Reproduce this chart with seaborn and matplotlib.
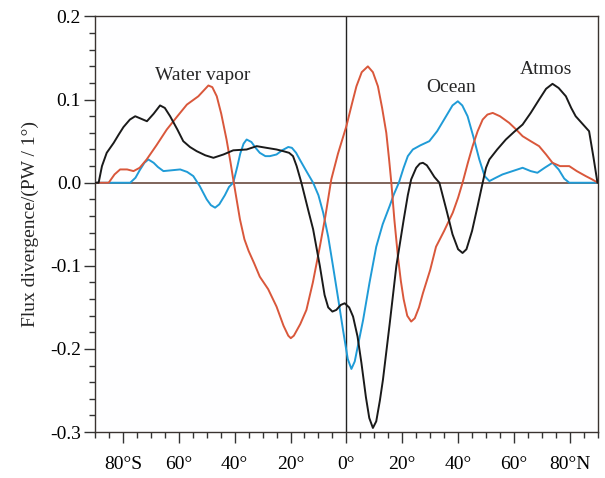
import numpy as np
import pandas as pd
import matplotlib
matplotlib.use("Agg")
import matplotlib.pyplot as plt
import seaborn as sns
from matplotlib.ticker import MultipleLocator, FixedLocator, FixedFormatter

# ---- data ----
lat_atmos = [-90, -88.7, -87.5, -85.8, -83.3, -81.5, -79.8, -77.5, -75.6, -73.5, -71.4,
             -69.0, -66.7, -65.0, -63.1, -60.5, -58.4, -56.0, -53.6, -50.5, -47.6, -44.0,
             -40.5, -35.7, -32.1, -28.6, -25.0, -22.6, -20.5, -19.1, -17.8, -16.1, -13.5,
             -11.9, -9.5, -7.8, -6.5, -5.0, -3.6, -2.0, -0.6, 1.0, 2.4, 4.0, 5.4, 7.0,
             8.2, 9.5, 10.7, 12.0, 13.1, 15.5, 17.9, 20.5, 22.0, 23.2, 25.0, 26.3, 27.4,
             28.8, 30.0, 31.5, 33.3, 36.0, 38.0, 40.0, 41.6, 43.0, 45.0, 47.0, 48.8, 50.0,
             51.2, 54.0, 57.1, 60.0, 63.1, 66.0, 69.0, 71.5, 73.8, 76.0, 78.6, 80.5, 82.1,
             84.5, 86.9, 88.5, 89.9, 90]
atmos = [0.0, 0.0, 0.020, 0.036, 0.048, 0.058, 0.067, 0.076, 0.080, 0.077, 0.074,
         0.083, 0.093, 0.090, 0.080, 0.064, 0.050, 0.043, 0.038, 0.033, 0.030, 0.034,
         0.039, 0.040, 0.044, 0.042, 0.040, 0.038, 0.036, 0.032, 0.020, 0.0, -0.035,
         -0.056, -0.100, -0.135, -0.150, -0.155, -0.153, -0.147, -0.145, -0.150, -0.161,
         -0.185, -0.217, -0.258, -0.283, -0.295, -0.287, -0.262, -0.237, -0.170, -0.100,
         -0.045, -0.015, 0.004, 0.018, 0.023, 0.024, 0.021, 0.015, 0.007, 0.0, -0.035,
         -0.062, -0.080, -0.0845, -0.080, -0.058, -0.028, 0.0, 0.018, 0.028, 0.040,
         0.052, 0.061, 0.070, 0.084, 0.100, 0.113, 0.119, 0.114, 0.104, 0.090, 0.080,
         0.071, 0.062, 0.030, 0.0, 0.0]

lat_wv = [-90, -85.1, -83.0, -81.0, -78.5, -76.2, -74.0, -71.5, -68.0, -64.3, -60.5,
          -57.1, -53.0, -49.4, -48.0, -46.4, -44.8, -42.9, -41.5, -40.5, -38.1, -36.5,
          -35.0, -33.0, -31.0, -28.0, -25.0, -22.5, -20.8, -19.9, -18.8, -16.5, -14.3,
          -12.0, -9.5, -7.5, -5.4, -3.0, 0.0, 2.0, 3.6, 5.5, 7.7, 9.5, 11.3, 12.8, 14.3,
          15.3, 16.1, 17.2, 18.5, 19.5, 20.5, 21.8, 23.2, 24.5, 26.0, 27.4, 30.0, 32.1,
          35.0, 38.1, 40.0, 41.6, 43.5, 45.2, 47.0, 48.8, 50.5, 52.4, 55.0, 58.3, 60.5,
          63.1, 66.0, 69.0, 71.5, 73.8, 76.5, 79.8, 82.5, 85.7, 88.0, 90]
water_vapor = [0.0, 0.0, 0.010, 0.016, 0.016, 0.014, 0.018, 0.028, 0.045, 0.064, 0.080,
               0.094, 0.104, 0.117, 0.115, 0.104, 0.083, 0.052, 0.025, 0.004, -0.044,
               -0.068, -0.082, -0.097, -0.113, -0.128, -0.149, -0.172, -0.184, -0.187,
               -0.184, -0.170, -0.153, -0.120, -0.077, -0.040, 0.004, 0.035, 0.068, 0.095,
               0.116, 0.133, 0.140, 0.133, 0.116, 0.090, 0.060, 0.028, 0.0, -0.045,
               -0.090, -0.118, -0.140, -0.160, -0.167, -0.163, -0.150, -0.133, -0.105,
               -0.077, -0.058, -0.036, -0.018, 0.0, 0.024, 0.044, 0.062, 0.076, 0.082,
               0.084, 0.080, 0.072, 0.065, 0.056, 0.050, 0.044, 0.034, 0.024, 0.020,
               0.020, 0.014, 0.008, 0.004, 0.0]

lat_ocean = [-90, -77.4, -75.5, -74.0, -72.3, -70.9, -69.0, -67.5, -65.5, -62.5, -59.5,
             -57.0, -54.8, -52.5, -50.0, -48.5, -47.0, -45.5, -43.5, -42.0, -40.5, -39.0,
             -38.0, -36.8, -35.7, -34.0, -32.5, -31.0, -29.0, -27.4, -25.0, -23.0, -20.8,
             -19.5, -18.0, -16.7, -14.5, -11.9, -10.0, -8.3, -6.5, -4.8, -3.0, -1.2, 0.5,
             1.8, 3.0, 4.5, 6.0, 8.3, 10.7, 13.0, 15.5, 17.0, 18.8, 20.5, 22.0, 23.8,
             26.5, 29.7, 32.5, 35.7, 38.0, 39.9, 41.5, 43.4, 45.5, 47.6, 49.5, 51.2, 53.5,
             55.9, 59.5, 63.1, 66.0, 68.4, 71.0, 73.8, 76.0, 78.0, 79.8, 90]
ocean = [0.0, 0.0, 0.006, 0.015, 0.024, 0.028, 0.024, 0.019, 0.014, 0.015, 0.016,
         0.013, 0.008, -0.004, -0.020, -0.027, -0.030, -0.026, -0.015, -0.005, 0.0,
         0.020, 0.035, 0.047, 0.052, 0.049, 0.042, 0.036, 0.032, 0.032, 0.034, 0.039,
         0.043, 0.042, 0.036, 0.028, 0.015, 0.0, -0.015, -0.036, -0.065, -0.100, -0.138,
         -0.177, -0.212, -0.224, -0.215, -0.190, -0.165, -0.120, -0.077, -0.050, -0.028,
         -0.014, 0.0, 0.018, 0.032, 0.040, 0.045, 0.050, 0.062, 0.080, 0.093, 0.098,
         0.093, 0.080, 0.055, 0.028, 0.008, 0.002, 0.006, 0.010, 0.014, 0.018, 0.014,
         0.012, 0.018, 0.024, 0.016, 0.005, 0.0, 0.0]

x_ticks = [-80, -60, -40, -20, 0, 20, 40, 60, 80]
x_ticklabels = ["80°S", "60°", "40°", "20°", "0°", "20°", "40°", "60°", "80°N"]
y_ticks = [-0.3, -0.2, -0.1, 0.0, 0.1, 0.2]
y_ticklabels = ["-0.3", "-0.2", "-0.1", "0.0", "0.1", "0.2"]

df = pd.concat([
    pd.DataFrame({"lat": lat_atmos, "flux": atmos, "series": "Atmos"}),
    pd.DataFrame({"lat": lat_wv, "flux": water_vapor, "series": "Water vapor"}),
    pd.DataFrame({"lat": lat_ocean, "flux": ocean, "series": "Ocean"}),
], ignore_index=True)

sns.set_style("ticks")
plt.rcParams["font.family"] = ["Liberation Serif", "DejaVu Serif"]
plt.rcParams["axes.unicode_minus"] = False

fig = plt.figure(figsize=(6.05, 4.78), dpi=100)
fig.patch.set_facecolor("white")
ax = fig.add_axes([0.157, 0.096, 0.831, 0.8695])
ax.set_facecolor("#fefeff")

palette = {"Atmos": "#1a1a1a", "Water vapor": "#d9573b", "Ocean": "#1f9bd7"}
ax.axhline(0, color="#5c3a2e", lw=1.1, zorder=1)
ax.axvline(0, color="#222222", lw=1.0, zorder=1)

for name in ["Ocean", "Water vapor", "Atmos"]:
    sub = df[df["series"] == name]
    sns.lineplot(data=sub, x="lat", y="flux", color=palette[name], lw=1.4,
                 sort=False, estimator=None, ax=ax, zorder=3)

ax.set_xlim(-90, 90)
ax.set_ylim(-0.3, 0.2)
ax.xaxis.set_major_locator(FixedLocator(x_ticks))
ax.xaxis.set_major_formatter(FixedFormatter(x_ticklabels))
ax.xaxis.set_minor_locator(MultipleLocator(5))
ax.yaxis.set_major_locator(FixedLocator(y_ticks))
ax.yaxis.set_major_formatter(FixedFormatter(y_ticklabels))
ax.yaxis.set_minor_locator(MultipleLocator(0.02))

ax.tick_params(axis="both", which="major", direction="out", length=8, width=1.0,
               colors="#333333", labelsize=14, labelcolor="black")
ax.tick_params(axis="both", which="minor", direction="out", length=4, width=1.0,
               colors="#333333")
ax.tick_params(axis="x", which="major", pad=9)
ax.tick_params(axis="y", which="major", pad=2)

for s in ax.spines.values():
    s.set_visible(True)
    s.set_color("#3a3330")
    s.set_linewidth(1.0)

ax.set_xlabel("")
ax.set_ylabel("Flux divergence/(PW / 1°)", fontsize=14, labelpad=8)

ax.text(-51.5, 0.129, "Water vapor", fontsize=14, ha="center", va="center")
ax.text(37.5, 0.114, "Ocean", fontsize=14, ha="center", va="center")
ax.text(71.5, 0.136, "Atmos", fontsize=14, ha="center", va="center")

fig.savefig("out.png", dpi=100)
